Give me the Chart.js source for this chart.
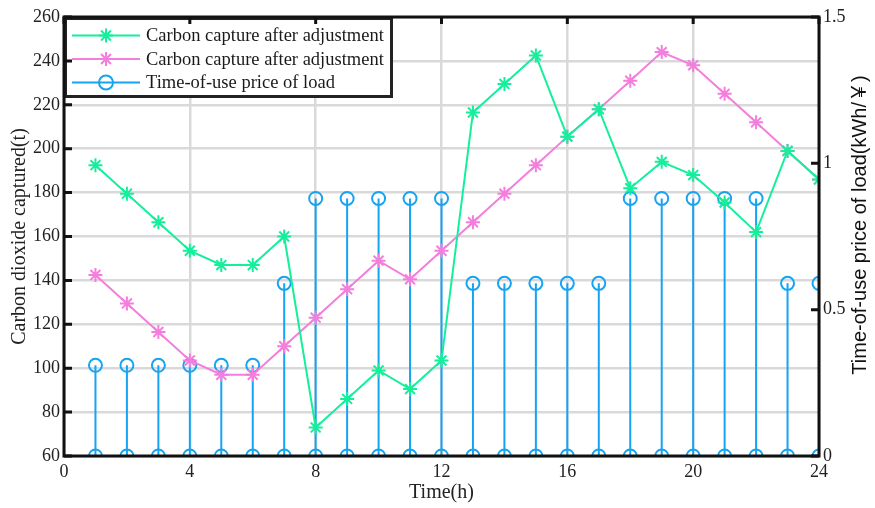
<!DOCTYPE html>
<html>
<head>
<meta charset="utf-8">
<script src="https://cdn.jsdelivr.net/npm/chart.js@4.4.1/dist/chart.umd.min.js"></script>
<style>
  html, body { margin: 0; padding: 0; background: #fff; }
  canvas { display: block; }
</style>
</head>
<body>
<canvas id="c" width="875" height="508"></canvas>
<script>
// Hourly carbon capture (t) and time-of-use load price
const hours = [1, 2, 3, 4, 5, 6, 7, 8, 9, 10, 11, 12, 13, 14, 15, 16, 17, 18, 19, 20, 21, 22, 23, 24];
const captureAdjustedA = [192.5, 179.5, 166.5, 153.5, 147, 147, 160, 73, 86, 99, 90.5, 103.5,
                          216.5, 229.5, 242.5, 205.5, 218, 182, 194, 188, 175.5, 162, 199, 186];
const captureAdjustedB = [142.5, 129.5, 116.5, 103.5, 97, 97, 110, 123, 136, 149, 140.5, 153.5,
                          166.5, 179.5, 192.5, 205.5, 218, 231, 244, 238, 225, 212, 199, 186];
const loadPrice = [0.31, 0.31, 0.31, 0.31, 0.31, 0.31, 0.59, 0.88, 0.88, 0.88, 0.88, 0.88,
                   0.59, 0.59, 0.59, 0.59, 0.59, 0.88, 0.88, 0.88, 0.88, 0.88, 0.59, 0.59];

const seriesLabels = ['Carbon capture after adjustment', 'Carbon capture after adjustment', 'Time-of-use price of load'];
const xTitle = 'Time(h)';
const yTitle = 'Carbon dioxide captured(t)';
const y1Title = 'Time-of-use price of load(kWh/\uFFE5)';

const GREEN = '#14EF9C';
const PINK = '#F47EDC';
const BLUE = '#16A4F2';
const SERIF = '"Liberation Serif", "Times New Roman", serif';
const SANS = '"Liberation Sans", Arial, "Noto Sans CJK SC", sans-serif';

// Stem segments: baseline point, top point, then a gap
const stemData = hours.flatMap((h, i) => [
  { x: h, y: 0 }, { x: h, y: loadPrice[i] }, { x: h, y: null }
]);

function drawMarker(ctx, style, x, y, r, color) {
  ctx.save();
  ctx.strokeStyle = color;
  ctx.lineWidth = 2;
  ctx.beginPath();
  if (style === 'circle') {
    ctx.arc(x, y, r, 0, Math.PI * 2);
  } else {
    for (let k = 0; k < 4; k++) {
      const a = k * Math.PI / 4;
      ctx.moveTo(x - r * Math.cos(a), y - r * Math.sin(a));
      ctx.lineTo(x + r * Math.cos(a), y + r * Math.sin(a));
    }
  }
  ctx.stroke();
  ctx.restore();
}

const frameAndLegend = {
  id: 'frameAndLegend',
  afterDraw(chart) {
    const { ctx, chartArea: a, scales } = chart;
    ctx.save();

    // legend box in the upper left of the plot
    const lx = a.left, ly = a.top, lw = 329, lh = 81;
    ctx.fillStyle = '#fff';
    ctx.fillRect(lx, ly, lw, lh);
    chart.data.datasets.forEach((ds, i) => {
      const rowY = ly + 18.5 + i * 23.5;
      ctx.strokeStyle = ds.borderColor;
      ctx.lineWidth = 2;
      ctx.beginPath();
      ctx.moveTo(lx + 8, rowY);
      ctx.lineTo(lx + 76, rowY);
      ctx.stroke();
      drawMarker(ctx, ds.pointStyle === 'circle' ? 'circle' : 'star', lx + 42, rowY, 7, ds.borderColor);
      ctx.fillStyle = '#1a1a1a';
      ctx.font = '18.5px ' + SERIF;
      ctx.textAlign = 'left';
      ctx.textBaseline = 'middle';
      ctx.fillText(ds.label, lx + 82, rowY + 1);
    });
    ctx.strokeStyle = '#222';
    ctx.lineWidth = 3;
    ctx.strokeRect(lx + 1.5, ly + 1.5, lw - 3, lh - 3);

    // inward tick marks
    ctx.strokeStyle = '#111';
    ctx.lineWidth = 3;
    ctx.beginPath();
    scales.y.ticks.forEach(t => {
      const p = scales.y.getPixelForValue(t.value);
      ctx.moveTo(a.left, p); ctx.lineTo(a.left + 8, p);
    });
    scales.y1.ticks.forEach(t => {
      const p = scales.y1.getPixelForValue(t.value);
      ctx.moveTo(a.right - 8, p); ctx.lineTo(a.right, p);
    });
    scales.x.ticks.forEach(t => {
      const p = scales.x.getPixelForValue(t.value);
      ctx.moveTo(p, a.top); ctx.lineTo(p, a.top + 7);
    });
    ctx.stroke();

    // axes box
    ctx.strokeStyle = '#111';
    ctx.lineWidth = 3;
    ctx.strokeRect(a.left, a.top, a.width, a.height);

    // right axis title, reading upward
    ctx.translate(860, 225);
    ctx.rotate(-Math.PI / 2);
    ctx.fillStyle = '#111';
    ctx.font = '20px ' + SANS;
    ctx.textAlign = 'center';
    ctx.textBaseline = 'middle';
    ctx.fillText(y1Title, 0, 0);
    ctx.restore();
  }
};

new Chart(document.getElementById('c'), {
  type: 'line',
  data: {
    datasets: [
      {
        label: seriesLabels[0],
        data: hours.map((h, i) => ({ x: h, y: captureAdjustedA[i] })),
        yAxisID: 'y',
        borderColor: GREEN, backgroundColor: GREEN,
        borderWidth: 2, pointStyle: 'star', pointRadius: 7,
        pointBorderWidth: 2, pointBorderColor: GREEN,
        tension: 0, clip: 0, order: 1
      },
      {
        label: seriesLabels[1],
        data: hours.map((h, i) => ({ x: h, y: captureAdjustedB[i] })),
        yAxisID: 'y',
        borderColor: PINK, backgroundColor: PINK,
        borderWidth: 2, pointStyle: 'star', pointRadius: 7,
        pointBorderWidth: 2, pointBorderColor: PINK,
        tension: 0, clip: 0, order: 2
      },
      {
        label: seriesLabels[2],
        data: stemData,
        yAxisID: 'y1',
        borderColor: BLUE, backgroundColor: 'rgba(0,0,0,0)',
        borderWidth: 2, pointStyle: 'circle', pointRadius: 6.5,
        pointBorderWidth: 2, pointBorderColor: BLUE,
        pointBackgroundColor: 'rgba(0,0,0,0)',
        spanGaps: false, tension: 0, clip: 0, order: 3
      }
    ]
  },
  options: {
    responsive: false,
    animation: false,
    devicePixelRatio: 1,
    layout: { padding: { top: 17, left: 0, right: 0, bottom: 0 } },
    plugins: { legend: { display: false }, tooltip: { enabled: false } },
    scales: {
      x: {
        type: 'linear', min: 0, max: 24,
        ticks: { stepSize: 4, padding: 5, color: '#222', font: { family: SERIF, size: 18 } },
        grid: { color: '#d9d9d9', lineWidth: 2.5, drawTicks: false },
        border: { display: false },
        title: { display: true, text: xTitle, color: '#222', font: { family: SERIF, size: 20 }, padding: { top: 0, bottom: 3 } },
        afterFit: s => { s.height = 52; }
      },
      y: {
        type: 'linear', position: 'left', min: 60, max: 260,
        ticks: { stepSize: 20, padding: 4, color: '#222', font: { family: SERIF, size: 18 } },
        grid: { color: '#d9d9d9', lineWidth: 2.5, drawTicks: false },
        border: { display: false },
        title: { display: true, text: yTitle, color: '#222', font: { family: SERIF, size: 20 }, padding: { top: 8, bottom: 0 } },
        afterFit: s => { s.width = 64; }
      },
      y1: {
        type: 'linear', position: 'right', min: 0, max: 1.5,
        ticks: {
          stepSize: 0.5, padding: 4, color: '#222', font: { family: SERIF, size: 18 },
          callback: v => String(Number(v.toFixed(2)))
        },
        grid: { display: false, drawTicks: false },
        border: { display: false },
        afterFit: s => { s.width = 56; }
      }
    }
  },
  plugins: [frameAndLegend]
});
</script>
</body>
</html>
